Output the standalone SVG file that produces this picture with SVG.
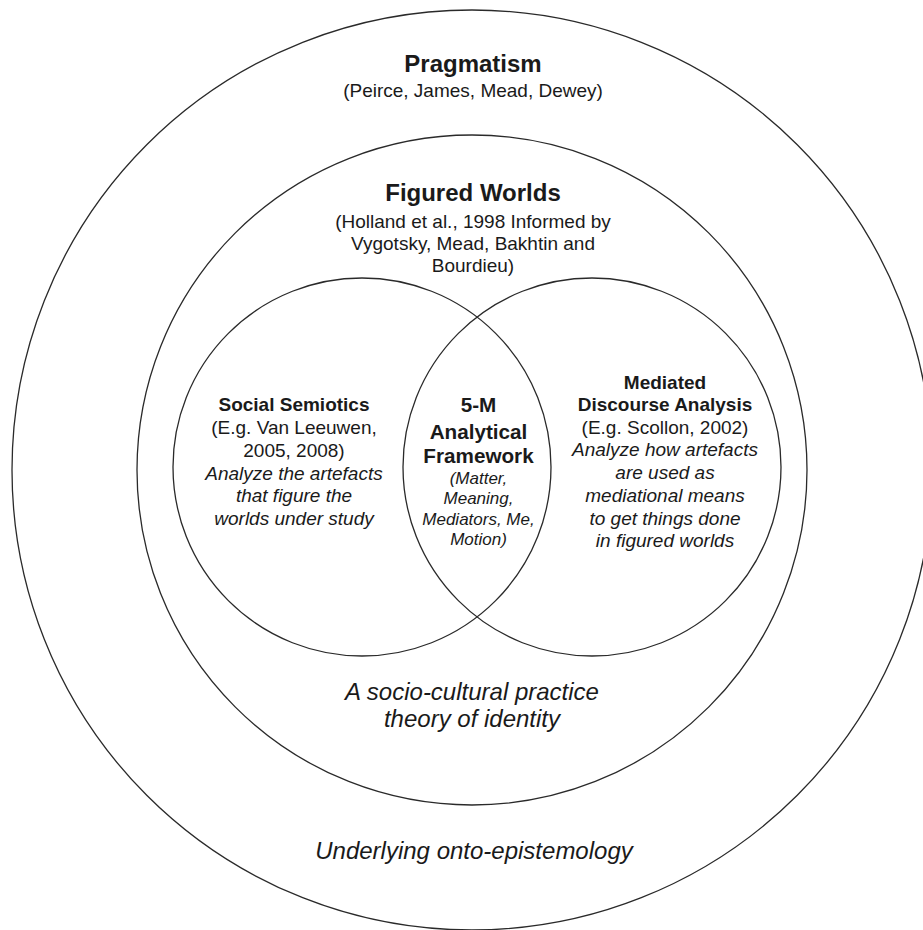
<svg xmlns="http://www.w3.org/2000/svg" width="923" height="930" viewBox="0 0 923 930">
<style>
.c{fill:none;stroke:#2a2a2a;stroke-width:1.3}
text{font-family:"Liberation Sans",Arial,sans-serif;fill:#1a1a1a;text-anchor:middle}
.h{font-weight:bold;font-size:24px}
.b{font-weight:bold;font-size:19px}
.r{font-size:19px}
.i{font-style:italic;font-size:19px}
.big{font-style:italic;font-size:24px}
.s{font-style:italic;font-size:17px}
.m{font-weight:bold;font-size:20.7px}
</style>
<rect width="923" height="930" fill="#fff"/>
<g id="pragmatism">
<circle class="c" cx="472" cy="470" r="460"/>
<text class="h" x="473" y="72">Pragmatism</text>
<text class="r" x="473" y="97">(Peirce, James, Mead, Dewey)</text>
<text class="big" x="474" y="859">Underlying onto-epistemology</text>
</g>
<g id="figured-worlds">
<circle class="c" cx="472" cy="470" r="335"/>
<text class="h" x="473" y="201">Figured Worlds</text>
<text class="r" x="473" y="228">(Holland et al., 1998 Informed by</text>
<text class="r" x="473" y="250">Vygotsky, Mead, Bakhtin and</text>
<text class="r" x="473" y="272">Bourdieu)</text>
<text class="big" x="472" y="700">A socio-cultural practice</text>
<text class="big" x="472" y="727">theory of identity</text>
</g>
<g id="social-semiotics">
<circle class="c" cx="362" cy="467" r="189"/>
<text class="b" x="294" y="411">Social Semiotics</text>
<text class="r" x="294" y="434">(E.g. Van Leeuwen,</text>
<text class="r" x="294" y="457">2005, 2008)</text>
<text class="i" x="294" y="480">Analyze the artefacts</text>
<text class="i" x="294" y="502">that figure the</text>
<text class="i" x="294" y="525">worlds under study</text>
</g>
<g id="mediated-discourse-analysis">
<circle class="c" cx="592" cy="467" r="189"/>
<text class="b" x="665" y="388.5">Mediated</text>
<text class="b" x="665" y="411">Discourse Analysis</text>
<text class="r" x="665" y="434">(E.g. Scollon, 2002)</text>
<text class="i" x="665" y="456">Analyze how artefacts</text>
<text class="i" x="665" y="478.5">are used as</text>
<text class="i" x="665" y="501.5">mediational means</text>
<text class="i" x="665" y="524.5">to get things done</text>
<text class="i" x="665" y="547">in figured worlds</text>
</g>
<g id="five-m-framework">
<text class="m" x="478.5" y="412">5-M</text>
<text class="m" x="478.5" y="438.5">Analytical</text>
<text class="m" x="478.5" y="462.5">Framework</text>
<text class="s" x="478.5" y="484">(Matter,</text>
<text class="s" x="478.5" y="504">Meaning,</text>
<text class="s" x="478.5" y="525">Mediators, Me,</text>
<text class="s" x="478.5" y="545">Motion)</text>
</g>
<g id="connectors"></g>
</svg>
